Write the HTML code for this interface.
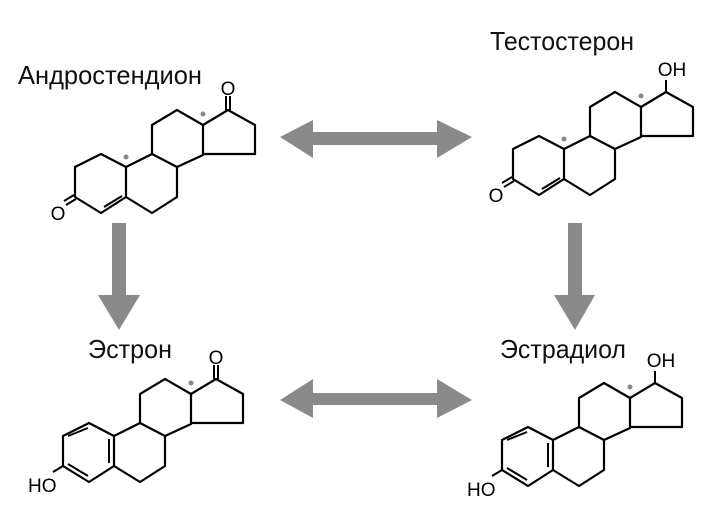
<!DOCTYPE html>
<html><head><meta charset="utf-8"><style>
html,body{margin:0;padding:0;background:#fff;}
svg{display:block;}
text{font-family:"Liberation Sans",sans-serif;}
</style></head><body>
<svg width="719" height="529" viewBox="0 0 719 529" xmlns="http://www.w3.org/2000/svg">
<defs>
<g id="skel" fill="none" stroke="#000" stroke-width="2.2" stroke-linejoin="round" stroke-linecap="round">
  <path d="M101,154 L75,167 L75,197 L101,213 L126,197 L126,167 Z"/>
  <path d="M126,167 L152,154 L177,167 L177,197 L152,213 L126,197"/>
  <path d="M152,154 L152,125 L177,110 L203,125 L203,155 L177,167"/>
  <path d="M203,125 L228,110 L255,125 L255,154 L203,154"/>
</g>
</defs>
<g fill="#8a8a8a">
  <polygon points="280,137 313,120 313,132 437,132 437,120 472,137 437,158 437,145 313,145 313,158"/>
  <polygon points="280,400 313,379 313,393 437,393 437,379 472,400 437,418 437,405 313,405 313,418"/>
  <polygon points="112,223 126,223 126,295 140,295 119,330 98,295 112,295"/>
  <polygon points="568,223 582,223 582,295 595,295 575,330 554,295 568,295"/>
</g>
<g font-size="26" fill="#111">
  <text x="18" y="84" textLength="184" lengthAdjust="spacingAndGlyphs">Андростендион</text>
  <text x="490" y="50" textLength="144" lengthAdjust="spacingAndGlyphs">Тестостерон</text>
  <text x="88" y="358" textLength="84" lengthAdjust="spacingAndGlyphs">Эстрон</text>
  <text x="500" y="358" textLength="126" lengthAdjust="spacingAndGlyphs">Эстрадиол</text>
</g>

<g>
  <use href="#skel"/>
  <g stroke="#000" stroke-width="2" fill="none">
    <path d="M104,207 L122,196"/>
    <path d="M74,195 L64,201 M76,199 L66,205"/>
    <path d="M226,110 L226,96 M230,110 L230,96"/>
  </g>
  <g font-size="19" fill="#000" text-anchor="middle">
    <text x="58" y="220">O</text>
    <text x="228" y="95">O</text>
  </g>
  <circle cx="126" cy="157" r="2.5" fill="#888"/>
  <circle cx="203" cy="114" r="2.5" fill="#888"/>
</g>

<g transform="translate(438,-18)">
  <use href="#skel"/>
  <g stroke="#000" stroke-width="2" fill="none">
    <path d="M104,207 L122,196"/>
    <path d="M74,195 L64,201 M76,199 L66,205"/>
    <path d="M228,110 L228,98"/>
  </g>
  <g font-size="19" fill="#000" text-anchor="middle">
    <text x="58" y="220">O</text>
    <text x="234" y="94">OH</text>
  </g>
  <circle cx="126" cy="157" r="2.5" fill="#888"/>
  <circle cx="203" cy="114" r="2.5" fill="#888"/>
</g>

<g transform="translate(-12,269)">
  <use href="#skel"/>
  <g stroke="#000" stroke-width="2" fill="none">
    <path d="M80,167 L100,159"/>
    <path d="M121,170 L121,194"/>
    <path d="M80,195 L100,207"/>
    <path d="M75,197 L65,203"/>
    <path d="M226,110 L226,96 M230,110 L230,96"/>
  </g>
  <g font-size="19" fill="#000">
    <text x="40" y="223">HO</text>
    <text x="228" y="95" text-anchor="middle">O</text>
  </g>
  <circle cx="203" cy="114" r="2.5" fill="#888"/>
</g>

<g transform="translate(427,273)">
  <use href="#skel"/>
  <g stroke="#000" stroke-width="2" fill="none">
    <path d="M80,167 L100,159"/>
    <path d="M121,170 L121,194"/>
    <path d="M80,195 L100,207"/>
    <path d="M75,197 L65,203"/>
    <path d="M228,110 L228,98"/>
  </g>
  <g font-size="19" fill="#000">
    <text x="40" y="223">HO</text>
    <text x="234" y="94" text-anchor="middle">OH</text>
  </g>
  <circle cx="203" cy="114" r="2.5" fill="#888"/>
</g>
</svg>
</body></html>
